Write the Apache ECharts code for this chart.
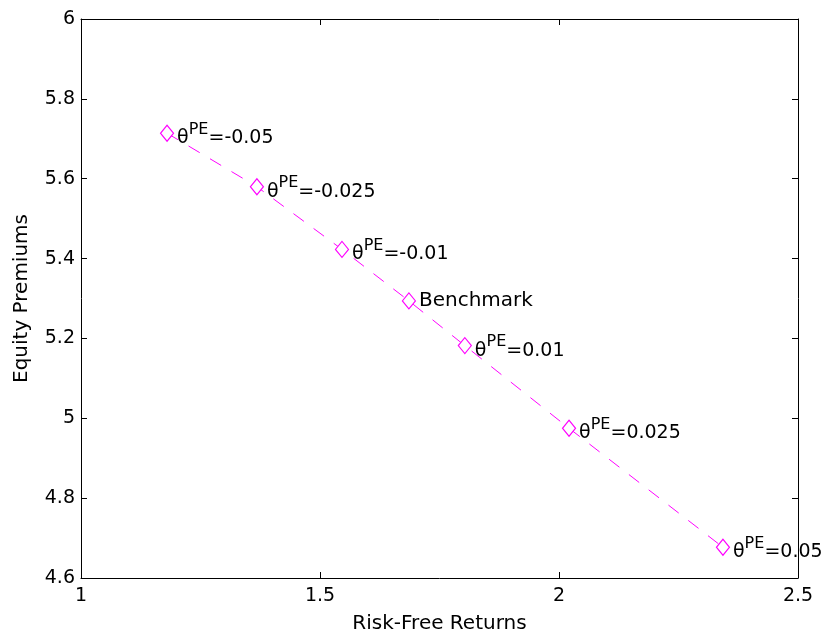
<!DOCTYPE html>
<html><head><meta charset="utf-8">
<script src="https://cdn.jsdelivr.net/npm/echarts@6/dist/echarts.min.js"></script>
<style>html,body{margin:0;padding:0;background:#fff}#c{width:828px;height:639px}</style>
</head><body><div id="c"></div>
<script>
var riskFree = [1.180, 1.368, 1.546, 1.686, 1.803, 2.021, 2.343];
var equityPremium = [5.714, 5.580, 5.423, 5.294, 5.182, 4.975, 4.677];
var thetaValues = ['-0.05', '-0.025', '-0.01', null, '0.01', '0.025', '0.05'];
var benchmarkLabel = 'Benchmark';
var xTicks = [1, 1.5, 2, 2.5];
var yTicks = [4.6, 4.8, 5, 5.2, 5.4, 5.6, 5.8, 6];

var font = 'DejaVu Sans, Liberation Sans, Arial, sans-serif';
var fs = 19;
var mag = '#ff00ff';
var data = riskFree.map(function (x, i) { return [x, equityPremium[i]]; });

function fmtY(v) { return String(Math.round(v * 10) / 10); }

var chart = echarts.init(document.getElementById('c'), null, { renderer: 'canvas' });
var axisCommon = {
  axisLine: { show: true, onZero: false, lineStyle: { color: '#000', width: 1 } },
  axisTick: { show: true, inside: true, length: 6, lineStyle: { color: '#000' } },
  splitLine: { show: false }
};
chart.setOption({
  animation: false,
  grid: { left: 81, right: 30, top: 19, bottom: 57, containLabel: false },
  xAxis: [
    Object.assign({
      type: 'value', min: xTicks[0], max: xTicks[xTicks.length - 1], interval: 0.5, position: 'bottom',
      name: 'Risk-Free Returns', nameLocation: 'middle', nameGap: 36,
      nameTextStyle: { fontFamily: font, fontSize: 20, color: '#000' },
      axisLabel: { fontFamily: font, fontSize: fs, color: '#000', margin: 9,
        formatter: function (v) { return String(v); } }
    }, axisCommon),
    Object.assign({
      type: 'value', min: xTicks[0], max: xTicks[xTicks.length - 1], interval: 0.5, position: 'top',
      axisLabel: { show: false }
    }, axisCommon)
  ],
  yAxis: [
    Object.assign({
      type: 'value', min: yTicks[0], max: yTicks[yTicks.length - 1], interval: 0.2, position: 'left',
      name: 'Equity Premiums', nameLocation: 'middle', nameGap: 49,
      nameTextStyle: { fontFamily: font, fontSize: 20, color: '#000' },
      axisLabel: { fontFamily: font, fontSize: fs, color: '#000', margin: 6, formatter: fmtY }
    }, axisCommon),
    Object.assign({
      type: 'value', min: yTicks[0], max: yTicks[yTicks.length - 1], interval: 0.2, position: 'right',
      axisLabel: { show: false }
    }, axisCommon)
  ],
  series: [{
    type: 'line',
    data: data,
    xAxisIndex: 0, yAxisIndex: 0,
    symbol: 'diamond',
    symbolSize: [13, 16],
    showAllSymbol: true,
    itemStyle: { color: '#fff', borderColor: mag, borderWidth: 1.2 },
    lineStyle: { color: mag, width: 1, type: [13, 12] },
    label: {
      show: true,
      position: 'right',
      distance: 3,
      fontFamily: font, fontSize: fs, color: '#000',
      formatter: function (p) {
        var t = thetaValues[p.dataIndex];
        if (t === null) return '{b|' + benchmarkLabel + '}';
        return '{t|θ}{s|PE}{n|=' + t + '}';
      },
      rich: {
        b: { fontFamily: font, fontSize: 20, color: '#000' },
        t: { fontFamily: font, fontSize: fs, color: '#000', padding: [10, 0, 0, 0] },
        s: { fontFamily: font, fontSize: 16, color: '#000', padding: [0, 0, 7, 0] },
        n: { fontFamily: font, fontSize: fs, color: '#000', padding: [10, 0, 0, 0] }
      }
    }
  }]
});
</script></body></html>
